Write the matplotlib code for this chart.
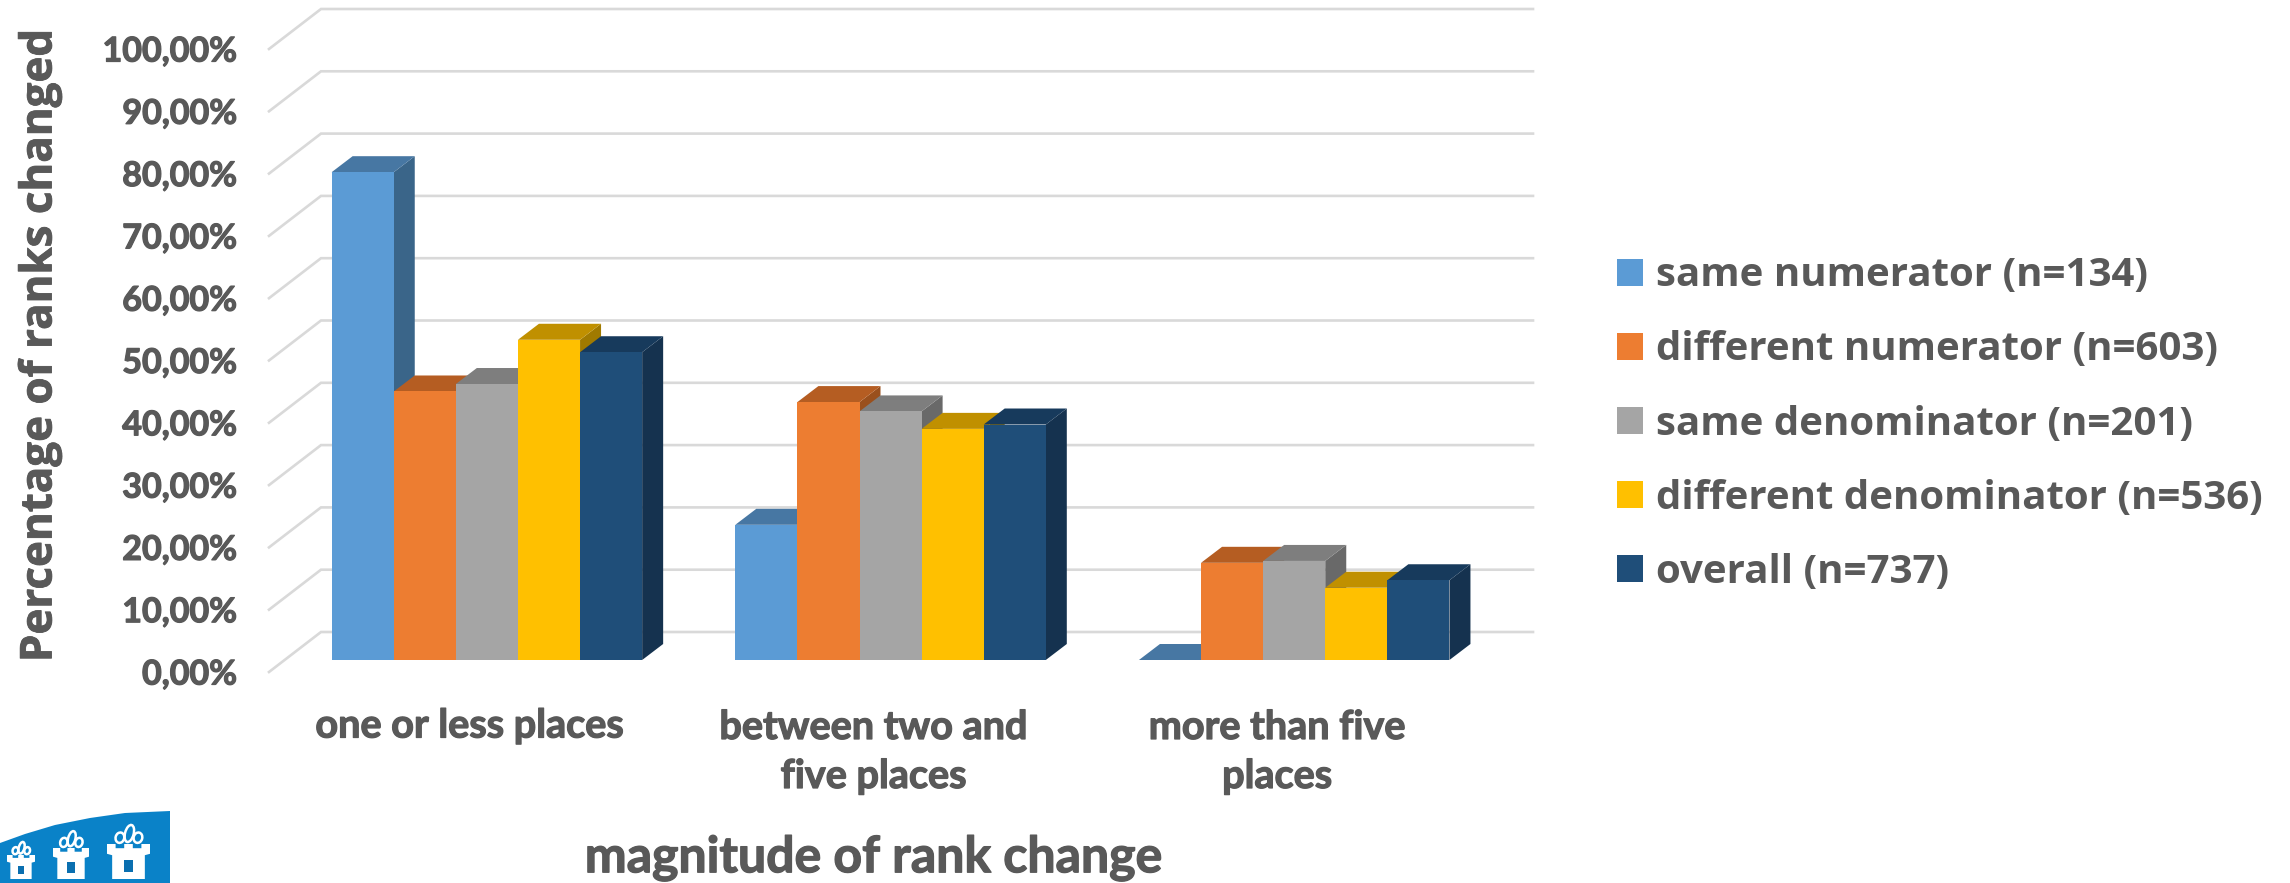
import matplotlib
matplotlib.use("Agg")
import matplotlib.pyplot as plt
import matplotlib.patheffects as pe
from matplotlib.patches import Polygon, Patch, Rectangle, Ellipse

categories = ["one or less places", "between two and\nfive places", "more than five\nplaces"]
series_names = ["same numerator (n=134)", "different numerator (n=603)", "same denominator (n=201)",
                "different denominator (n=536)", "overall (n=737)"]
same_numerator = [78.3, 21.7, 0.0]
different_numerator = [43.1, 41.4, 15.6]
same_denominator = [44.3, 39.9, 15.9]
different_denominator = [51.4, 37.1, 11.6]
overall = [49.4, 37.8, 12.8]
series_values = [same_numerator, different_numerator, same_denominator, different_denominator, overall]
y_ticks = [0, 10, 20, 30, 40, 50, 60, 70, 80, 90, 100]

front_colors = ["#5B9BD5", "#ED7D31", "#A5A5A5", "#FFC000", "#1F4E79"]
top_colors = ["#4777A3", "#B55D22", "#7E7E7E", "#C09000", "#173A5C"]
side_colors = ["#3A6589", "#9A501D", "#696969", "#A07A00", "#15324F"]
text_color = "#595959"
grid_color = "#D9D9D9"

W, H = 2290, 883
PX_X = 62.1   # pixels per bar width
PX_Y = 6.23   # pixels per percent
X0 = 486.9    # centre of first group
Y0 = 660.0    # zero line of the bars
GROUP_STEP = 6.5
DEPTH_X = 21 / PX_X
DEPTH_Y = 16 / PX_Y

heavy = [pe.withStroke(linewidth=0.9, foreground=text_color)]

fig = plt.figure(figsize=(W / 100, H / 100), dpi=100)
ax = fig.add_axes([0, 0, 1, 1])
ax.set_xlim(-X0 / PX_X, (W - X0) / PX_X)
ax.set_ylim((Y0 - H) / PX_Y, Y0 / PX_Y)
ax.axis("off")

# back wall gridlines with the slanted floor edge on the left
wall_left = (321 - X0) / PX_X
wall_right = (1533 - X0) / PX_X
edge_left = (269 - X0) / PX_X
wall_dy = 28 / PX_Y
edge_dy = -12 / PX_Y
for t in y_ticks:
    ax.plot([edge_left, wall_left, wall_right], [t + edge_dy, t + wall_dy, t + wall_dy],
            color=grid_color, lw=1.9, solid_joinstyle="miter", zorder=1)
    ax.text((237 - X0) / PX_X, t + edge_dy - 0.4, f"{t},00%", ha="right", va="center",
            fontsize=24.5, fontweight="bold", family="Lato", color=text_color, path_effects=heavy)

# bars, painted left to right so each one covers the side of the previous
z = 2
for g in range(len(categories)):
    left = g * GROUP_STEP - 2.5
    for s, values in enumerate(series_values):
        v = values[g]
        x0, x1 = left + s, left + s + 1
        ax.add_patch(Polygon([(x1, 0), (x1 + DEPTH_X, DEPTH_Y), (x1 + DEPTH_X, v + DEPTH_Y), (x1, v)],
                             closed=True, fc=side_colors[s], ec="none", zorder=z))
        ax.add_patch(Polygon([(x0, v), (x0 + DEPTH_X, v + DEPTH_Y), (x1 + DEPTH_X, v + DEPTH_Y), (x1, v)],
                             closed=True, fc=top_colors[s], ec="none", zorder=z))
        ax.add_patch(Rectangle((x0, 0), 1, v, fc=front_colors[s], ec="none", zorder=z))
        z += 1
    label_y = 752 if "\n" in categories[g] else 726
    ax.text(g * GROUP_STEP - 17 / PX_X, -(label_y - Y0) / PX_Y, categories[g], ha="center", va="center",
            fontsize=28.5, fontweight="bold", family="Lato", color=text_color, linespacing=1.4,
            path_effects=heavy)

fig.text(40 / W, 1 - 346 / H, "Percentage of ranks changed", rotation=90, ha="center", va="center",
         fontsize=31.6, fontweight="bold", family="Open Sans", color=text_color,
         path_effects=[pe.withStroke(linewidth=0.6, foreground=text_color)])
fig.text(873 / W, 1 - 858 / H, "magnitude of rank change", ha="center", va="center",
         fontsize=36, fontweight="bold", family="Lato", color=text_color, path_effects=heavy)

handles = [Patch(fc=c, ec="none") for c in front_colors]
fig.legend(handles, series_names, loc="center left", bbox_to_anchor=(1617 / W, 1 - 424 / H), frameon=False,
           prop={"family": "Open Sans", "weight": "bold", "size": 29}, labelcolor=text_color,
           handlelength=0.65, handleheight=0.65, handletextpad=0.33, labelspacing=0.87, borderpad=0, borderaxespad=0)

# crest in the lower left corner, drawn in pixel coordinates
logo = fig.add_axes([0, 0, 1, 1], facecolor="none")
logo.set_xlim(0, W)
logo.set_ylim(H, 0)
logo.axis("off")
arc = [(0, 843), (25, 834), (55, 825), (90, 818), (125, 813), (170, 811), (170, 883), (0, 883)]
logo.add_patch(Polygon(arc, closed=True, fc="#0A82C8", ec="none"))
for cx, w, h in [(21, 28, 24), (71, 36, 31), (128.5, 43, 35)]:
    base = 879
    tower = [(cx - w * 0.38, base), (cx - w * 0.38, base - h * 0.68), (cx - w * 0.5, base - h * 0.72),
             (cx - w * 0.5, base - h), (cx - w * 0.3, base - h), (cx - w * 0.3, base - h * 0.88),
             (cx - w * 0.1, base - h * 0.88), (cx - w * 0.1, base - h), (cx + w * 0.1, base - h),
             (cx + w * 0.1, base - h * 0.88), (cx + w * 0.3, base - h * 0.88), (cx + w * 0.3, base - h),
             (cx + w * 0.5, base - h), (cx + w * 0.5, base - h * 0.72), (cx + w * 0.38, base - h * 0.68),
             (cx + w * 0.38, base)]
    logo.add_patch(Polygon(tower, closed=True, fc="white", ec="none"))
    logo.add_patch(Rectangle((cx - w * 0.1, base - h * 0.55), w * 0.2, h * 0.35, fc="#0A6FB0", ec="none"))
    # flames above the tower
    for dx, dy, fw, fh in [(-0.2, 1.18, 0.2, 0.3), (0.02, 1.3, 0.2, 0.5), (0.22, 1.18, 0.2, 0.3)]:
        logo.add_patch(Ellipse((cx + w * dx, base - h * dy), w * fw, h * fh, angle=15, fc="none", ec="white", lw=1.8))

fig.savefig("out.png", dpi=100, facecolor="white")
